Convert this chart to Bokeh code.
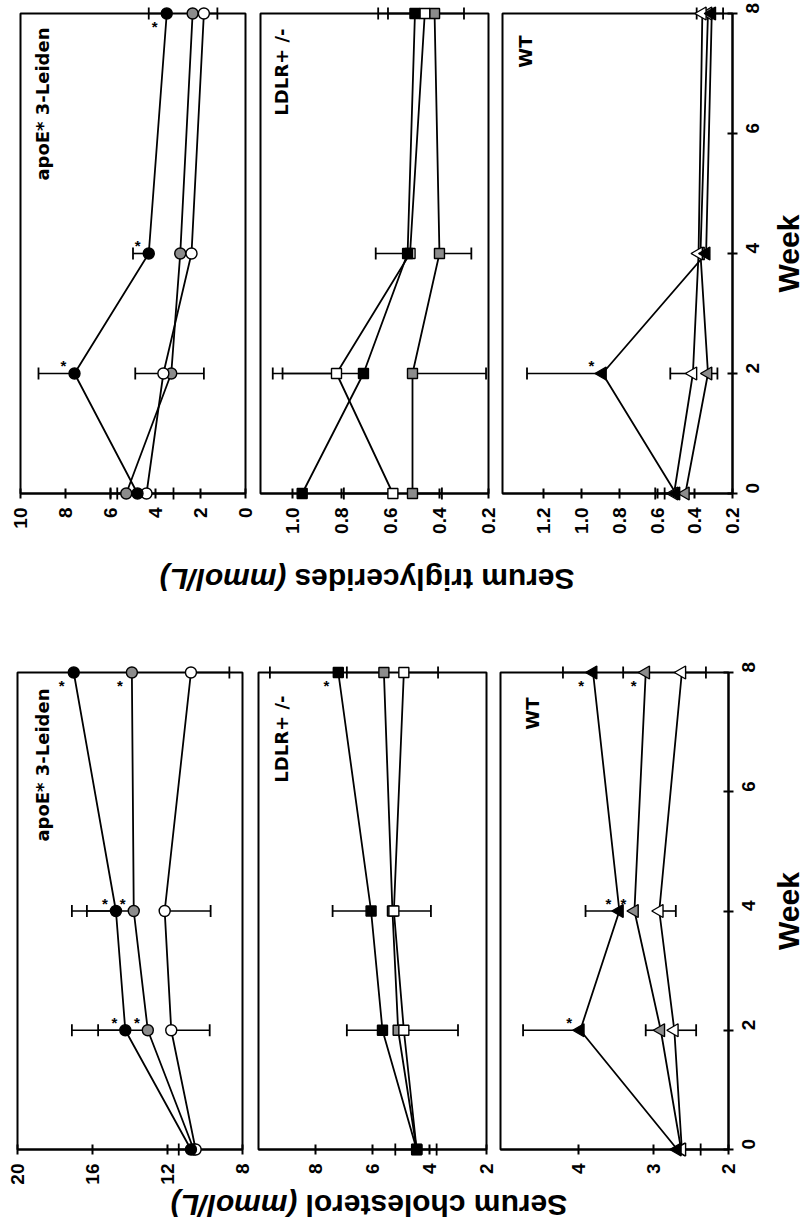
import math
from bokeh.plotting import figure
from bokeh.models import Range1d, FixedTicker, Label, PrintfTickFormatter, ColumnDataSource
from bokeh.layouts import row, column
from bokeh.embed import file_html
from bokeh.resources import INLINE
from bokeh.core.properties import value

NAN = float("nan")

weeks = [0, 2, 4, 8]
week_ticks = [0, 2, 4, 6, 8]

# ---------------- Serum triglycerides (mmol/L) ----------------
# apoE*3-Leiden (circles)
tg_apoe_black = [4.8, 7.6, 4.3, 3.5]
tg_apoe_black_err = [5.7, 9.2, 5.0, 4.3]
tg_apoe_gray = [5.3, 3.3, 2.9, 2.35]
tg_apoe_gray_err = [6.0, 4.9, NAN, NAN]
tg_apoe_white = [4.4, 3.65, 2.4, 1.85]
tg_apoe_white_err = [3.2, 1.85, NAN, 1.25]
tg_apoe_sig_black = [2, 4, 8]
tg_apoe_sig_gray = []
tg_apoe_ticks = [0, 2, 4, 6, 8, 10]

# LDLR+/- (squares)
tg_ldlr_black = [0.96, 0.71, 0.53, 0.50]
tg_ldlr_black_err = [NAN, 1.04, 0.66, 0.65]
tg_ldlr_gray = [0.51, 0.51, 0.40, 0.42]
tg_ldlr_gray_err = [0.39, 0.21, 0.27, 0.30]
tg_ldlr_white = [0.59, 0.82, 0.52, 0.46]
tg_ldlr_white_err = [0.79, 1.08, NAN, 0.61]
tg_ldlr_sig_black = []
tg_ldlr_sig_gray = []
tg_ldlr_ticks = [0.2, 0.4, 0.6, 0.8, 1.0]

# WT (triangles)
tg_wt_black = [0.50, 0.89, 0.34, 0.31]
tg_wt_black_err = [0.56, 1.29, NAN, NAN]
tg_wt_gray = [0.45, 0.33, 0.37, 0.33]
tg_wt_gray_err = [NAN, 0.28, NAN, 0.25]
tg_wt_white = [0.51, 0.41, 0.38, 0.36]
tg_wt_white_err = [0.61, 0.53, NAN, 0.39]
tg_wt_sig_black = [2]
tg_wt_sig_gray = []
tg_wt_ticks = [0.2, 0.4, 0.6, 0.8, 1.0, 1.2]

# ---------------- Serum cholesterol (mmol/L) ----------------
ch_apoe_black = [10.75, 14.25, 14.75, 17.0]
ch_apoe_black_err = [11.4, 17.1, 17.1, NAN]
ch_apoe_gray = [10.6, 13.05, 13.8, 13.9]
ch_apoe_gray_err = [NAN, 15.7, 16.3, NAN]
ch_apoe_white = [10.5, 11.8, 12.15, 10.75]
ch_apoe_white_err = [NAN, 9.75, 9.7, 8.7]
ch_apoe_sig_black = [2, 4, 8]
ch_apoe_sig_gray = [2, 4, 8]
ch_apoe_ticks = [8, 12, 16, 20]

ch_ldlr_black = [4.45, 5.65, 6.05, 7.2]
ch_ldlr_black_err = [NAN, 6.9, 7.4, 9.6]
ch_ldlr_gray = [4.45, 5.1, 5.3, 5.6]
ch_ldlr_gray_err = [5.2, NAN, 3.95, 6.9]
ch_ldlr_white = [4.45, 4.9, 5.25, 4.9]
ch_ldlr_white_err = [3.75, 3.0, NAN, 3.7]
ch_ldlr_sig_black = [8]
ch_ldlr_sig_gray = []
ch_ldlr_ticks = [2, 4, 6, 8]

ch_wt_black = [2.68, 3.97, 3.45, 3.8]
ch_wt_black_err = [NAN, 4.73, 3.9, 4.2]
ch_wt_gray = [2.63, 2.9, 3.25, 3.1]
ch_wt_gray_err = [NAN, 3.1, NAN, 3.4]
ch_wt_white = [2.62, 2.72, 2.92, 2.62]
ch_wt_white_err = [2.37, 2.43, 2.7, 2.3]
ch_wt_sig_black = [2, 4, 8]
ch_wt_sig_gray = [4, 8]
ch_wt_ticks = [2, 3, 4]

FONT_TXT = "DejaVu Sans"
FONT_AX = "Liberation Sans"
FILLS = {"gray": "#8c8c8c", "white": "white", "black": "black"}
MARKERS = {
    "circle": dict(marker="circle", size=11, angle=0.0),
    "square": dict(marker="square", size=10, angle=0.0),
    "triangle": dict(marker="triangle", size=13, angle=math.pi / 2),
}


def build(spec):
    fl, fw, ft, fh = spec["frame"]
    bl, br, bt, bb = spec["border"]
    hi, lo = spec["xlim"]
    p = figure(frame_width=fw, frame_height=fh,
               min_border_left=bl, min_border_right=br,
               min_border_top=bt, min_border_bottom=bb,
               x_range=Range1d(hi, lo), y_range=Range1d(0, 8),
               x_axis_location="below",
               y_axis_location="right" if spec["week_axis"] else None,
               toolbar_location=None, output_backend="svg", title=None,
               background_fill_color="white", border_fill_color="white")
    p.xgrid.visible = False
    p.ygrid.visible = False
    p.outline_line_color = "black"
    p.outline_line_width = 2
    p.outline_line_alpha = 1.0

    def to_data(sx, sy):
        return (hi + (lo - hi) * (sx - fl) / fw, 8 - 8 * (sy - ft) / fh)

    axes = [p.xaxis[0]]
    p.xaxis[0].ticker = FixedTicker(ticks=spec["ticks"])
    p.xaxis[0].formatter = PrintfTickFormatter(format=spec["fmt"])
    if spec["week_axis"]:
        p.yaxis[0].ticker = FixedTicker(ticks=week_ticks)
        p.yaxis[0].formatter = PrintfTickFormatter(format="%d")
        axes.append(p.yaxis[0])
    for ax in axes:
        ax.major_label_orientation = math.pi / 2
        ax.major_tick_in = 5
        ax.major_tick_out = 5
        ax.minor_tick_in = 0
        ax.minor_tick_out = 0
        ax.axis_line_width = 2
        ax.axis_line_color = "black"
        ax.major_tick_line_width = 2
        ax.major_tick_line_color = "black"
        ax.major_label_text_font = FONT_AX
        ax.major_label_text_font_size = "19px"
        ax.major_label_text_font_style = "bold"
        ax.major_label_text_color = "black"
    p.xaxis[0].major_label_standoff = 9
    if spec["week_axis"]:
        p.yaxis[0].major_label_standoff = 15

    order = ["gray", "white", "black"]
    mk = MARKERS[spec["marker"]]
    # error bars
    for key in order:
        vals = spec["vals"][key]
        errs = spec["errs"][key]
        idx = [i for i, e in enumerate(errs) if not math.isnan(e)]
        if not idx:
            continue
        ew = [weeks[i] for i in idx]
        ev = [vals[i] for i in idx]
        ee = [errs[i] for i in idx]
        p.segment(x0=ev, y0=ew, x1=ee, y1=ew, line_color="black", line_width=1.6, level="overlay")
        p.scatter(x=ee, y=ew, marker="dash", size=12, angle=math.pi / 2,
                  line_color="black", line_width=1.8, level="overlay")
    # lines
    for key in order:
        p.line(x=spec["vals"][key], y=weeks, line_color="black", line_width=1.8, level="overlay")
    # markers
    for key in order:
        p.scatter(x=spec["vals"][key], y=weeks, marker=mk["marker"], size=mk["size"],
                  angle=mk["angle"], fill_color=FILLS[key], line_color="black",
                  line_width=1.4, level="overlay")
    # significance stars
    for key in order:
        sig = spec["sig"].get(key, [])
        if not sig:
            continue
        vals = spec["vals"][key]
        src = ColumnDataSource(dict(
            x=[vals[weeks.index(w)] for w in sig], y=list(sig), t=["*"] * len(sig),
            xo=[-11 if w < 8 else -12 for w in sig],
            yo=[-8 if w < 8 else 13 for w in sig]))
        p.text(x="x", y="y", text="t", x_offset="xo", y_offset="yo", source=src,
               text_font=value(FONT_AX), text_font_size="15px", text_font_style="bold",
               text_color="black", text_align="center", text_baseline="middle", level="overlay")

    # panel name
    nx, ny = to_data(*spec["name_pos"])
    p.add_layout(Label(x=nx, y=ny, text=spec["name"], angle=math.pi / 2,
                       text_align="right", text_baseline="middle", text_font=FONT_TXT,
                       text_font_size="18px", text_font_style="bold", text_color="black"))
    # texts outside the frame (axis titles), drawn unclipped
    for (txt, pos, align, style, size, ang) in spec.get("extra", []):
        lx, ly = to_data(*pos)
        p.text(x=[lx], y=[ly], text=[txt], angle=ang, text_align=align,
               text_baseline="middle", text_font=value(FONT_AX), text_font_size=size,
               text_font_style=style, text_color="black", level="overlay")
    return p


def strip(height, top_page, texts):
    """Full-width band holding the upside-down value-axis title."""
    p = figure(width=810, height=height, x_range=Range1d(0, 810), y_range=Range1d(0, height),
               min_border_left=0, min_border_right=0, min_border_top=0, min_border_bottom=0,
               x_axis_location=None, y_axis_location=None, toolbar_location=None,
               output_backend="svg", title=None, outline_line_color=None,
               background_fill_color="white", border_fill_color="white")
    p.xgrid.visible = False
    p.ygrid.visible = False
    for (txt, (sx, sy), align, style) in texts:
        p.text(x=[sx], y=[height - (sy - top_page)], text=[txt], angle=math.pi,
               text_align=align, text_baseline="middle", text_font=value(FONT_AX),
               text_font_size="30px", text_font_style=style, text_color="black",
               level="overlay")
    return p


TOP_FT, TOP_FH, TOP_BB = 13, 480, 50
BOT_FT, BOT_FH, BOT_BB = 672, 477, 39
TOP_STRIP_Y = TOP_FT + TOP_FH + TOP_BB            # 543
TOP_STRIP_H = 615 - TOP_STRIP_Y                   # 72
BOT_STRIP_Y = BOT_FT + BOT_FH + BOT_BB            # 1188
BOT_STRIP_H = 1229 - BOT_STRIP_Y                  # 41

specs_top = [
    dict(frame=(20, 225, TOP_FT, TOP_FH), border=(20, 10, 13, TOP_BB), xlim=(10, 0),
         ticks=tg_apoe_ticks, fmt="%d", marker="circle", week_axis=False,
         vals=dict(black=tg_apoe_black, gray=tg_apoe_gray, white=tg_apoe_white),
         errs=dict(black=tg_apoe_black_err, gray=tg_apoe_gray_err, white=tg_apoe_white_err),
         sig=dict(black=tg_apoe_sig_black, gray=tg_apoe_sig_gray),
         name="apoE* 3-Leiden", name_pos=(42, 27)),
    dict(frame=(260, 228, TOP_FT, TOP_FH), border=(5, 10, 13, TOP_BB), xlim=(1.13, 0.2),
         ticks=tg_ldlr_ticks, fmt="%.1f", marker="square", week_axis=False,
         vals=dict(black=tg_ldlr_black, gray=tg_ldlr_gray, white=tg_ldlr_white),
         errs=dict(black=tg_ldlr_black_err, gray=tg_ldlr_gray_err, white=tg_ldlr_white_err),
         sig=dict(black=tg_ldlr_sig_black, gray=tg_ldlr_sig_gray),
         name="LDLR+ /-", name_pos=(281, 28)),
    dict(frame=(502, 230, TOP_FT, TOP_FH), border=(4, 78, 13, TOP_BB), xlim=(1.42, 0.2),
         ticks=tg_wt_ticks, fmt="%.1f", marker="triangle", week_axis=True,
         vals=dict(black=tg_wt_black, gray=tg_wt_gray, white=tg_wt_white),
         errs=dict(black=tg_wt_black_err, gray=tg_wt_gray_err, white=tg_wt_white_err),
         sig=dict(black=tg_wt_sig_black, gray=tg_wt_sig_gray),
         name="WT", name_pos=(525, 35),
         extra=[("Week", (788, TOP_FT + TOP_FH / 2), "center", "bold", "30px", math.pi / 2)]),
]

specs_bot = [
    dict(frame=(17, 225, BOT_FT, BOT_FH), border=(17, 10, 57, BOT_BB), xlim=(20, 8),
         ticks=ch_apoe_ticks, fmt="%d", marker="circle", week_axis=False,
         vals=dict(black=ch_apoe_black, gray=ch_apoe_gray, white=ch_apoe_white),
         errs=dict(black=ch_apoe_black_err, gray=ch_apoe_gray_err, white=ch_apoe_white_err),
         sig=dict(black=ch_apoe_sig_black, gray=ch_apoe_sig_gray),
         name="apoE* 3-Leiden", name_pos=(42, 688)),
    dict(frame=(258, 228, BOT_FT, BOT_FH), border=(6, 10, 57, BOT_BB), xlim=(10, 2),
         ticks=ch_ldlr_ticks, fmt="%d", marker="square", week_axis=False,
         vals=dict(black=ch_ldlr_black, gray=ch_ldlr_gray, white=ch_ldlr_white),
         errs=dict(black=ch_ldlr_black_err, gray=ch_ldlr_gray_err, white=ch_ldlr_white_err),
         sig=dict(black=ch_ldlr_sig_black, gray=ch_ldlr_sig_gray),
         name="LDLR+ /-", name_pos=(281, 695)),
    dict(frame=(500, 228, BOT_FT, BOT_FH), border=(4, 82, 57, BOT_BB), xlim=(5.03, 2),
         ticks=ch_wt_ticks, fmt="%d", marker="triangle", week_axis=True,
         vals=dict(black=ch_wt_black, gray=ch_wt_gray, white=ch_wt_white),
         errs=dict(black=ch_wt_black_err, gray=ch_wt_gray_err, white=ch_wt_white_err),
         sig=dict(black=ch_wt_sig_black, gray=ch_wt_sig_gray),
         name="WT", name_pos=(532, 697),
         extra=[("Week", (788, BOT_FT + BOT_FH / 2), "center", "bold", "30px", math.pi / 2)]),
]

top = row(*[build(s) for s in specs_top], spacing=0)
top_title = strip(TOP_STRIP_H, TOP_STRIP_Y,
                  [("Serum triglycerides", (294, 579), "right", "bold"),
                   ("(mmol/L)", (286, 579), "left", "bold italic")])
bot = row(*[build(s) for s in specs_bot], spacing=0)
bot_title = strip(BOT_STRIP_H, BOT_STRIP_Y,
                  [("Serum cholesterol", (305, 1205), "right", "bold"),
                   ("(mmol/L)", (297, 1205), "left", "bold italic")])
layout = column(top, top_title, bot, bot_title, spacing=0)

open("out.html", "w").write(file_html(layout, INLINE, title="Serum lipids"))
